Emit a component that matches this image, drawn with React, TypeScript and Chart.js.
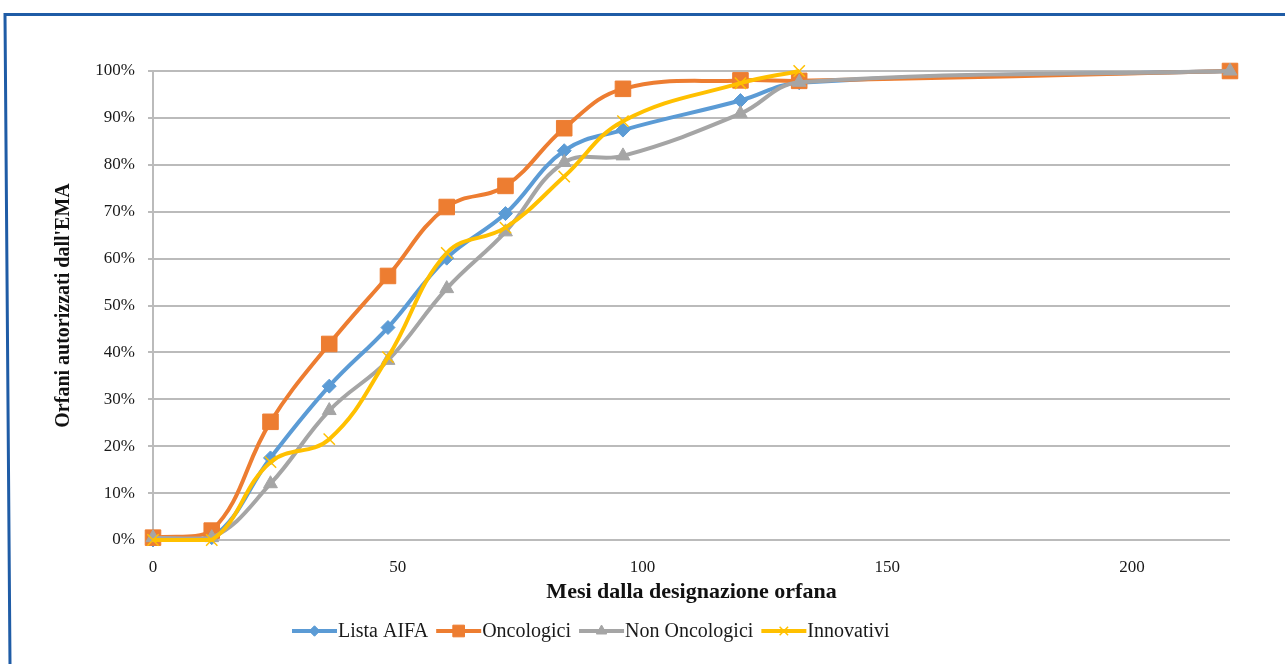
import React, { useEffect, useRef } from "react";
import { Chart, registerables } from "chart.js";
import { drawPoint } from "chart.js/helpers";

Chart.register(...registerables);

// Months since orphan designation
const months = [0, 12, 24, 36, 48, 60, 72, 84, 96, 120, 132, 220];
const monthsInnovativi = [0, 12, 24, 36, 48, 60, 72, 84, 96, 120, 132];

// Cumulative % of orphans authorised by EMA
const listaAifa = [0, 0.5, 17.5, 32.8, 45.3, 60.1, 69.6, 83, 87.4, 93.7, 97.5, 100];
const oncologici = [0.5, 2, 25.2, 41.8, 56.3, 71, 75.5, 87.8, 96.2, 98, 97.9, 100];
const nonOncologici = [0.5, 0.5, 12, 27.6, 38.3, 53.6, 65.7, 80.5, 81.9, 90.9, 97.6, 100];
const innovativi = [0, 0, 16.6, 21.5, 39, 61.2, 66.6, 77.5, 89.3, 97.4, 100];

const seriesNames = ["Lista AIFA", "Oncologici", "Non Oncologici", "Innovativi"];
const seriesColors = ["#5B9BD5", "#ED7D31", "#A5A5A5", "#FFC000"];

const xTitle = "Mesi dalla designazione orfana";
const yTitle = "Orfani autorizzati dall'EMA";

const SERIF = '"Liberation Serif", "Times New Roman", serif';

const toPoints = (xs: number[], ys: number[]) => xs.map((x, i) => ({ x, y: ys[i] }));

const markerStyles = [
  { pointStyle: "rectRot", radius: 7, borderWidth: 1 },
  { pointStyle: "rect", radius: 11, borderWidth: 1 },
  { pointStyle: "triangle", radius: 8, borderWidth: 1 },
  { pointStyle: "crossRot", radius: 8, borderWidth: 1.5 },
];

const framePlugin = {
  id: "frame",
  beforeDraw(chart: any) {
    const ctx = chart.ctx;
    ctx.save();
    ctx.strokeStyle = "#1F5CA6";
    ctx.lineWidth = 3;
    ctx.beginPath();
    ctx.moveTo(1285, 14.5);
    ctx.lineTo(5, 14.5);
    ctx.lineTo(10, 664);
    ctx.stroke();
    ctx.restore();
  },
};

const legendPlugin = {
  id: "customLegend",
  afterDraw(chart: any) {
    const ctx = chart.ctx;
    ctx.save();
    ctx.font = `20px ${SERIF}`;
    ctx.textBaseline = "middle";
    ctx.textAlign = "left";
    let x = 292;
    const y = 631;
    chart.data.datasets.forEach((ds: any, i: number) => {
      const color = seriesColors[i];
      ctx.strokeStyle = color;
      ctx.lineWidth = 4;
      ctx.beginPath();
      ctx.moveTo(x, y);
      ctx.lineTo(x + 45, y);
      ctx.stroke();
      ctx.fillStyle = color;
      ctx.strokeStyle = color;
      const m = markerStyles[i];
      ctx.lineWidth = m.borderWidth;
      drawPoint(ctx, { pointStyle: m.pointStyle, radius: m.radius * 0.75, rotation: 0, borderWidth: m.borderWidth }, x + 22.5, y);
      ctx.fillStyle = "#1a1a1a";
      ctx.fillText(ds.label, x + 46, y + 1);
      x += 46 + ctx.measureText(ds.label).width + 8;
    });
    ctx.restore();
  },
};

export default function App() {
  const ref = useRef<HTMLCanvasElement | null>(null);

  useEffect(() => {
    if (!ref.current) return;
    const seriesData = [
      toPoints(months, listaAifa),
      toPoints(months, oncologici),
      toPoints(months, nonOncologici),
      toPoints(monthsInnovativi, innovativi),
    ];
    const chart = new Chart(ref.current, {
      type: "scatter",
      data: {
        datasets: seriesData.map((d, i) => ({
          label: seriesNames[i],
          data: d,
          showLine: true,
          tension: 0.4,
          borderColor: seriesColors[i],
          backgroundColor: seriesColors[i],
          borderWidth: 4,
          pointStyle: markerStyles[i].pointStyle as any,
          pointRadius: markerStyles[i].radius,
          pointBorderWidth: markerStyles[i].borderWidth,
          pointBackgroundColor: seriesColors[i],
          pointBorderColor: seriesColors[i],
          order: 3 - i,
          clip: false as any,
        })),
      },
      options: {
        responsive: false,
        animation: false,
        layout: { padding: { left: 40, right: 55, top: 71, bottom: 58 } },
        plugins: {
          legend: { display: false },
          tooltip: { enabled: false },
        },
        scales: {
          x: {
            type: "linear",
            min: 0,
            max: 220,
            grid: { display: false },
            border: { display: false },
            ticks: {
              stepSize: 50,
              includeBounds: false,
              padding: 9,
              color: "#1a1a1a",
              font: { family: SERIF, size: 17 },
              maxRotation: 0,
            },
            title: {
              display: true,
              text: xTitle,
              color: "#111",
              font: { family: SERIF, size: 22, weight: "bold" },
              padding: { top: 0, bottom: 0 },
            },
            afterFit(scale: any) {
              scale.height = 66;
            },
          },
          y: {
            type: "linear",
            min: 0,
            max: 100,
            grid: { color: "#BBBBBB", lineWidth: 2, tickLength: 5 },
            border: { display: true, color: "#BBBBBB", width: 2 },
            ticks: {
              stepSize: 10,
              padding: 13,
              color: "#1a1a1a",
              font: { family: SERIF, size: 17 },
              callback: (v: any) => `${v}%`,
            },
            title: {
              display: true,
              text: yTitle,
              color: "#111",
              font: { family: SERIF, size: 20, weight: "bold" },
              padding: { top: 12, bottom: 0 },
            },
            afterFit(scale: any) {
              scale.width = 113;
            },
          },
        },
      },
      plugins: [framePlugin, legendPlugin],
    });
    return () => chart.destroy();
  }, []);

  return (
    <div style={{ position: "absolute", left: 0, top: 0, width: 1285, height: 664, background: "#fff" }}>
      <canvas ref={ref} width={1285} height={664} style={{ display: "block" }} />
    </div>
  );
}
